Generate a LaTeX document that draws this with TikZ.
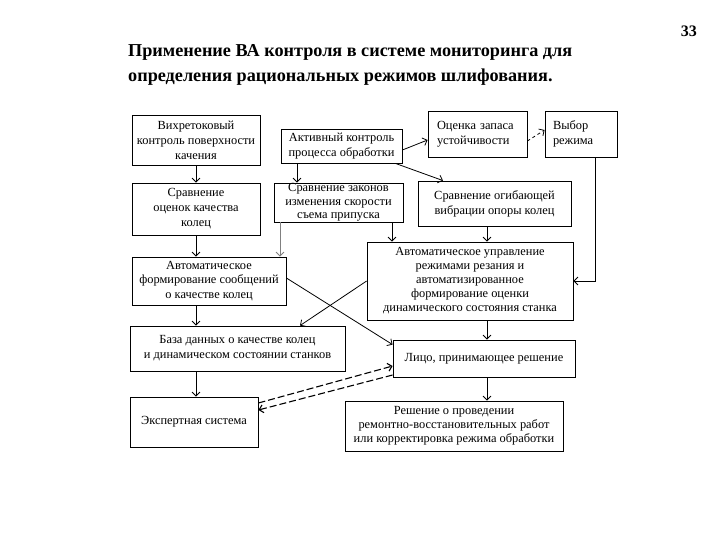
\documentclass[tikz,border=0pt]{standalone}
\usepackage{fontspec}
\setmainfont{Liberation Serif}
\usetikzlibrary{arrows.meta}
\begin{document}
\begin{tikzpicture}[x=1pt,y=-1pt,
  box/.style={draw=black,line width=0.8pt,align=center,inner sep=2pt,
    font=\fontsize{12.4}{15}\selectfont},
  arr/.style={draw=black,line width=0.8pt,-{Straight Barb[length=4pt,width=8pt]}},
  darr/.style={arr,line width=1.1pt,dash pattern=on 7pt off 3pt},
  title/.style={anchor=base west,font=\fontsize{18.2}{22}\selectfont\bfseries,inner sep=0pt}]
\useasboundingbox[fill=white] (0,0) rectangle (720,540);
\node[title] (t1) at (128,57) {Применение ВА контроля в системе мониторинга для};
\node[title] (t2) at (128,82) {определения рациональных режимов шлифования.};
\node[title,anchor=base east,font=\fontsize{16}{20}\selectfont\bfseries] (pg) at (697,37) {33};

\node[box,minimum width=128,minimum height=50] (b1) at (196,140) {Вихретоковый\\контроль поверхности\\качения};
\node[box,minimum width=121,minimum height=34] (b2) at (341.5,146) {Активный контроль\\процесса обработки};
\node[box,minimum width=99,minimum height=46,text width=81,align=left,inner xsep=9pt] (b3) at (477.5,134) {Оценка запаса\\устойчивости};
\node[box,minimum width=72,minimum height=46,text width=56,align=left,inner xsep=8pt] (b4) at (581,134) {Выбор\\режима};
\node[box,minimum width=128,minimum height=52] (b5) at (196,209) {Сравнение\\оценок качества\\колец};
\node[box,minimum width=129,minimum height=39,inner ysep=0pt,font=\fontsize{12.4}{13.5}\selectfont] (b6) at (338.5,202.5) {Сравнение законов\\изменения скорости\\съема припуска};
\node[box,minimum width=153,minimum height=45] (b7) at (494.5,203.5) {Сравнение огибающей\\вибрации опоры колец};
\node[box,minimum width=206,minimum height=78,inner ysep=1pt,font=\fontsize{12.4}{14}\selectfont] (b8) at (470,281) {Автоматическое управление\\режимами резания и\\автоматизированное\\формирование оценки\\динамического состояния станка};
\node[box,minimum width=154,minimum height=48,inner ysep=1pt,font=\fontsize{12.4}{14.5}\selectfont] (b9) at (209,281) {Автоматическое\\формирование сообщений\\о качестве колец};
\node[box,minimum width=215,minimum height=45] (b10) at (237.5,348.5) {База данных о качестве колец\\и динамическом состоянии станков};
\node[box,minimum width=182,minimum height=37] (b11) at (484,358.5) {Лицо, принимающее решение};
\node[box,minimum width=128,minimum height=50] (b12) at (194,422) {Экспертная система};
\node[box,minimum width=218,minimum height=50,inner ysep=1pt,font=\fontsize{12.4}{14}\selectfont] (b13) at (454,426) {Решение о проведении\\ремонтно-восстановительных работ\\или корректировка режима обработки};

\draw[arr] (b1) -- (b5);
\draw[arr] ([xshift=-44.5pt]b2.south) -- ([xshift=-44.5pt]b2.south |- b6.north);
\draw[arr] ([yshift=-4pt]b2.east) -- ([yshift=-6pt]b3.west);
\draw[arr] ([xshift=-7pt]b2.south east) -- ([xshift=-51.5pt]b7.north);
\draw[arr,dashed] ([yshift=-7pt]b3.east) -- ([yshift=4pt]b4.west);
\draw[arr] ([xshift=14pt]b4.south) |- (b8.east);
\draw[arr] (b5.south) -- (b5.south |- b9.north);
\draw[arr,draw=gray] ([xshift=-58.5pt]b6.south) -- ([xshift=-58.5pt]b6.south |- b9.north);
\draw[arr] ([xshift=53.5pt]b6.south) -- ([xshift=53.5pt]b6.south |- b8.north);
\draw[arr] ([xshift=-7.5pt]b7.south) -- ([xshift=-7.5pt]b7.south |- b8.north);
\draw[arr] ([yshift=3pt]b9.east) -- ([yshift=-5pt]b11.north west);
\draw[arr] (b8.west) -- ([xshift=62.5pt]b10.north);
\draw[arr] ([xshift=-13pt]b9.south) -- ([xshift=-13pt]b9.south |- b10.north);
\draw[arr] ([xshift=17pt]b8.south) -- ([xshift=17pt]b8.south |- b11.north);
\draw[arr] ([xshift=-41.5pt]b10.south) -- ([xshift=-41.5pt]b10.south |- b12.north);
\draw[arr] ([xshift=3pt]b11.south) -- ([xshift=3pt]b11.south |- b13.north);
\draw[darr] ([yshift=19pt]b12.east) -- ([yshift=-7.5pt]b11.west);
\draw[darr] ([yshift=-16.5pt]b11.west) -- ([yshift=12pt]b12.east);
\end{tikzpicture}
\end{document}
